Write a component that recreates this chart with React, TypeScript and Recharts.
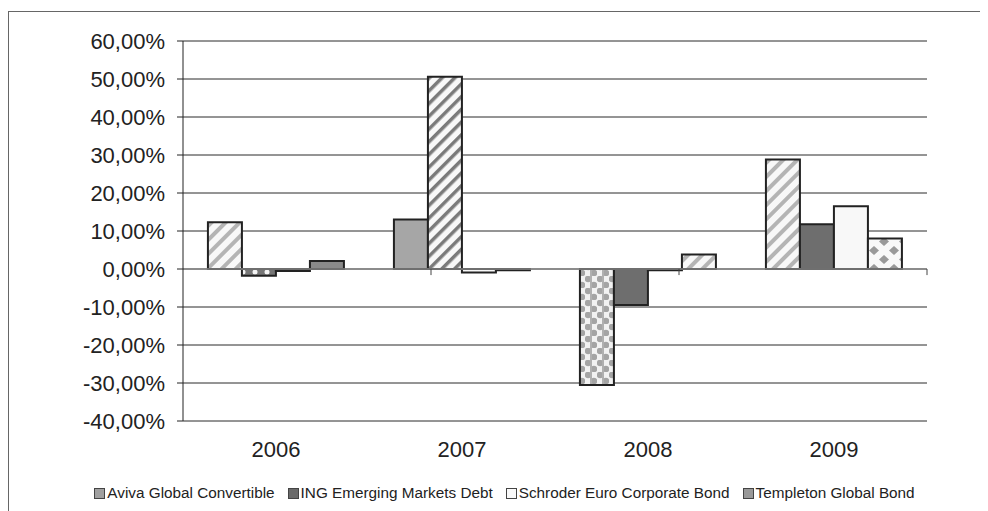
import { BarChart, Bar, Cell, XAxis, YAxis, CartesianGrid, Legend, ReferenceLine } from "recharts";

const FONT = '"Liberation Sans", Arial, sans-serif';

const YEARS = ["2006", "2007", "2008", "2009"];
const AVIVA = [12.3, 13.0, -30.5, 28.8];
const ING = [-1.8, 50.6, -9.5, 11.8];
const SCHRODER = [-0.5, -0.9, -0.3, 16.5];
const TEMPLETON = [2.1, -0.3, 3.8, 8.0];
const Y_TICKS = [-40, -30, -20, -10, 0, 10, 20, 30, 40, 50, 60];
const BOUNDARIES = [1, 2, 3, 4];

const data = YEARS.map((year, i) => ({
  year,
  aviva: AVIVA[i],
  ing: ING[i],
  schroder: SCHRODER[i],
  templeton: TEMPLETON[i],
}));

// legend swatch + per-year fills (the original uses a different fill for each bar)
const SERIES = [
  { key: "aviva", name: "Aviva Global Convertible", color: "#a0a0a0", fills: ["url(#stripeLight)", "#a6a6a6", "url(#bubbles)", "url(#stripeLight)"] },
  { key: "ing", name: "ING Emerging Markets Debt", color: "#6a6a6a", fills: ["url(#dots)", "url(#stripeDark)", "#6e6e6e", "#6e6e6e"] },
  { key: "schroder", name: "Schroder Euro Corporate Bond", color: "#fafafa", fills: ["#333333", "#f8f8f8", "#333333", "#f8f8f8"] },
  { key: "templeton", name: "Templeton Global Bond", color: "#999999", fills: ["#8a8a8a", "#333333", "url(#stripeLight)", "url(#diamonds)"] },
];

const fmt = (v: number) => `${v.toFixed(2).replace(".", ",")}%`;

const renderLegend = () => (
  <div
    style={{
      display: "flex",
      justifyContent: "center",
      alignItems: "center",
      gap: 13,
      height: 20,
      fontFamily: FONT,
      fontSize: 15.3,
      color: "#222",
      whiteSpace: "nowrap",
    }}
  >
    {SERIES.map((s) => (
      <span key={s.key} style={{ display: "flex", alignItems: "center" }}>
        <span
          style={{
            display: "inline-block",
            width: 9,
            height: 9,
            background: s.color,
            border: "1px solid #444",
            marginRight: 2,
          }}
        />
        {s.name}
      </span>
    ))}
  </div>
);

export default function App() {
  return (
    <div style={{ paddingTop: 3 }}>
      <style>{"html,body{overflow:hidden}"}</style>
      <div style={{ borderTop: "1px solid #666", borderLeft: "1px solid #666", width: 1010, height: 499 }}>
        <BarChart
          width={979}
          height={499}
          data={data}
          margin={{ top: 29, right: 61, bottom: 8, left: 0 }}
          barCategoryGap="13.4%"
          barGap={0}
        >
          <defs>
            <pattern id="stripeLight" patternUnits="userSpaceOnUse" width="10" height="10" patternTransform="rotate(45)">
              <rect width="10" height="10" fill="#f8f8f8" />
              <rect width="4" height="10" fill="#b4b4b4" />
            </pattern>
            <pattern id="stripeDark" patternUnits="userSpaceOnUse" width="9" height="9" patternTransform="rotate(45)">
              <rect width="9" height="9" fill="#f8f8f8" />
              <rect width="3.5" height="9" fill="#7a7a7a" />
            </pattern>
            <pattern id="dots" patternUnits="userSpaceOnUse" width="12" height="8">
              <rect width="12" height="8" fill="#777" />
              <circle cx="6" cy="4" r="2.5" fill="#f4f4f4" />
            </pattern>
            <pattern id="bubbles" patternUnits="userSpaceOnUse" width="12" height="12">
              <rect width="12" height="12" fill="#f2f2f2" />
              <circle cx="3" cy="3" r="3.2" fill="#a4a4a4" />
              <circle cx="9" cy="9" r="3.2" fill="#a4a4a4" />
              <rect x="5" y="0" width="2" height="12" fill="#b0b0b0" />
            </pattern>
            <pattern id="diamonds" patternUnits="userSpaceOnUse" width="20" height="18">
              <rect width="20" height="18" fill="#f8f8f8" />
              <polygon points="5,0 10,4.5 5,9 0,4.5" fill="#999" />
              <polygon points="15,9 20,13.5 15,18 10,13.5" fill="#999" />
            </pattern>
          </defs>
          <CartesianGrid vertical={false} stroke="#2a2a2a" />
          <XAxis
            dataKey="year"
            axisLine={false}
            tickLine={false}
            height={62}
            tickMargin={14}
            tick={{ fontSize: 22, fill: "#222", fontFamily: FONT }}
          />
          <XAxis xAxisId="edge" type="number" domain={[0, 4]} hide />
          <YAxis
            width={174}
            domain={[-40, 60]}
            ticks={Y_TICKS}
            tickFormatter={fmt}
            axisLine={{ stroke: "#222" }}
            tickLine={{ stroke: "#222" }}
            tickSize={6}
            tickMargin={12}
            tick={{ fontSize: 22, fill: "#222", fontFamily: FONT }}
          />
          <Legend verticalAlign="bottom" content={renderLegend} wrapperStyle={{ left: 6, width: 979 }} />
          {SERIES.map((s) => (
            <Bar
              key={s.key}
              dataKey={s.key}
              name={s.name}
              fill={s.color}
              stroke="#222"
              strokeWidth={2}
              isAnimationActive={false}
            >
              {s.fills.map((f, i) => (
                <Cell key={i} fill={f} />
              ))}
            </Bar>
          ))}
          <ReferenceLine y={0} stroke="#8a8a8a" strokeWidth={1.5} />
          {BOUNDARIES.map((b) => (
            <ReferenceLine
              key={b}
              xAxisId="edge"
              segment={[
                { x: b, y: 0 },
                { x: b, y: -1.6 },
              ]}
              stroke="#444"
            />
          ))}
        </BarChart>
      </div>
    </div>
  );
}
